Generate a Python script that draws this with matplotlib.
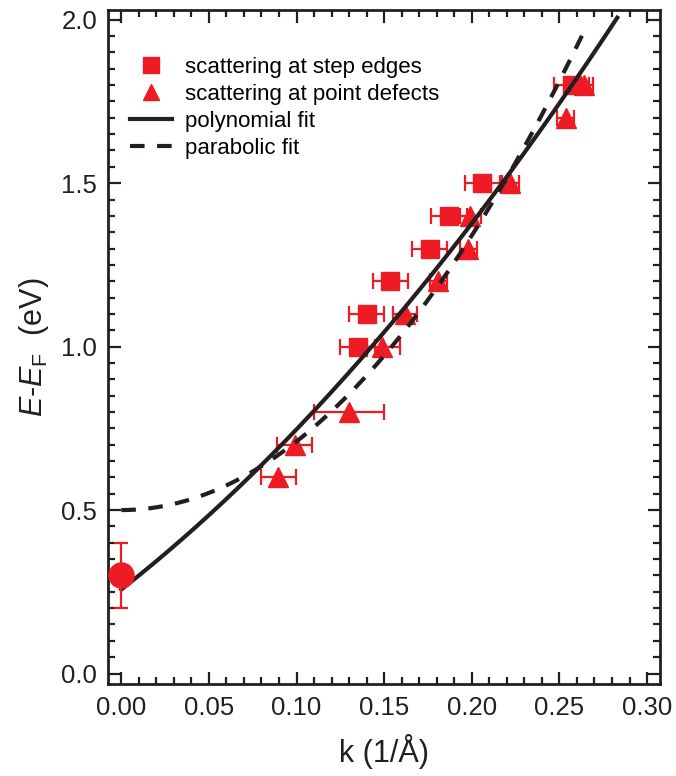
import numpy as np
import matplotlib
matplotlib.use('Agg')
import matplotlib.pyplot as plt
from matplotlib.lines import Line2D
from matplotlib.ticker import MultipleLocator

plt.rcParams['font.family'] = ['Liberation Sans', 'DejaVu Sans']
plt.rcParams['mathtext.fontset'] = 'custom'
plt.rcParams['mathtext.rm'] = 'Liberation Sans'
plt.rcParams['mathtext.it'] = 'Liberation Sans:italic'

# scattering at step edges (k, E, x error)
step_k = [0.135, 0.140, 0.1535, 0.176, 0.187, 0.206, 0.257]
step_E = [1.0, 1.1, 1.2, 1.3, 1.4, 1.5, 1.8]
step_dk = [0.01, 0.01, 0.01, 0.01, 0.01, 0.01, 0.01]

# scattering at point defects
point_k = [0.0897, 0.099, 0.1297, 0.149, 0.162, 0.181, 0.198, 0.199, 0.222, 0.2536, 0.264]
point_E = [0.6, 0.7, 0.8, 1.0, 1.1, 1.2, 1.3, 1.4, 1.5, 1.7, 1.8]
point_dk = [0.01, 0.01, 0.02, 0.01, 0.007, 0.005, 0.005, 0.006, 0.005, 0.005, 0.005]

# value at k = 0
zero_k = [0.0]
zero_E = [0.3]
zero_dE = [0.1]

# fit coefficients
poly_coef = [0.257, 4.2, 7.0]     # E = a + b k + c k^2
poly_kmax = 0.283
para_coef = [0.5, 21.0]           # E = E0 + a k^2
para_kmax = 0.265

red = '#ED1C24'
black = '#231F20'

fig = plt.figure(figsize=(6.76, 7.76), dpi=100)
ax = fig.add_axes([0.16, 0.1186, 0.8166, 0.8686])

kp = np.linspace(0, poly_kmax, 200)
ax.plot(kp, poly_coef[0] + poly_coef[1] * kp + poly_coef[2] * kp ** 2,
        color=black, lw=3, zorder=3)
kq = np.linspace(0, para_kmax, 200)
ax.plot(kq, para_coef[0] + para_coef[1] * kq ** 2, color=black, lw=3,
        dashes=(3.5, 3), zorder=3)

ax.errorbar(step_k, step_E, xerr=step_dk, fmt='s', color=red, ms=13,
            elinewidth=1.6, capsize=5.5, capthick=1.6, zorder=2)
ax.errorbar(point_k, point_E, xerr=point_dk, fmt='^', color=red, ms=14,
            elinewidth=1.6, capsize=5.5, capthick=1.6, zorder=2)
ax.errorbar(zero_k, zero_E, yerr=zero_dE, fmt='o', color=red, ms=18,
            elinewidth=1.6, capsize=5, capthick=1.6, zorder=4)

handles = [
    Line2D([], [], ls='none', marker='s', ms=11, color=red),
    Line2D([], [], ls='none', marker='^', ms=12, color=red),
    Line2D([], [], color=black, lw=3),
    Line2D([], [], color=black, lw=3, dashes=(3.5, 3)),
]
labels = ['scattering at step edges', 'scattering at point defects',
          'polynomial fit', 'parabolic fit']
ax.legend(handles, labels, loc='upper left', bbox_to_anchor=(0.04, 0.93),
          frameon=False, fontsize=16, borderpad=0, borderaxespad=0,
          handlelength=1.9, handletextpad=0.55, labelspacing=0.27)

ax.set_xlim(-0.0075, 0.3075)
ax.set_ylim(-0.032, 2.03)
ax.xaxis.set_major_locator(MultipleLocator(0.05))
ax.xaxis.set_minor_locator(MultipleLocator(0.01))
ax.yaxis.set_major_locator(MultipleLocator(0.5))
ax.yaxis.set_minor_locator(MultipleLocator(0.05))
ax.xaxis.set_major_formatter(plt.FormatStrFormatter('%.2f'))
ax.yaxis.set_major_formatter(plt.FormatStrFormatter('%.1f'))

ax.tick_params(which='both', direction='in', top=True, right=True,
               color=black, labelcolor=black, labelsize=18.5)
ax.tick_params(which='major', length=9, width=1.6)
ax.tick_params(which='minor', length=5, width=1.6)
ax.tick_params(axis='x', pad=9)
ax.tick_params(axis='y', pad=8)
for s in ax.spines.values():
    s.set_linewidth(2)
    s.set_color(black)

ax.set_xlabel('k (1/Å)', fontsize=22, labelpad=10, color=black)
ax.set_ylabel(r'$\mathit{E}$-$\mathit{E}_{\mathrm{F}}$  (eV)', fontsize=22,
              labelpad=7, color=black)

fig.savefig('out.png', dpi=100)
